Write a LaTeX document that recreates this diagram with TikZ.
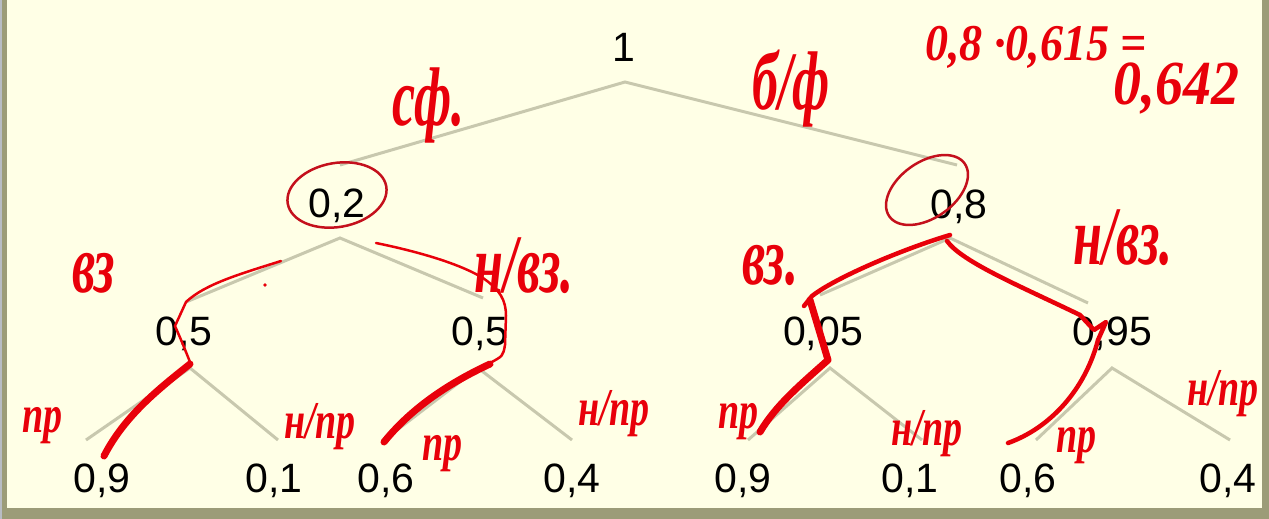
\documentclass[tikz,border=0pt]{standalone}
\usepackage{fontspec}
\usepackage{graphicx}
\setmainfont{Liberation Sans}
\newfontfamily\handfont{Liberation Serif}
\definecolor{bg}{HTML}{FFFFE6}
\definecolor{framec}{HTML}{9C9C78}
\definecolor{stripc}{HTML}{B8BCC4}
\definecolor{branch}{HTML}{C8C8AE}
\definecolor{ink}{HTML}{E8000A}
\definecolor{inkdark}{HTML}{C4101C}
\newcommand\hw[1]{\scalebox{1}[1.4]{#1}}
\newcommand\hwt[1]{\scalebox{1}[1.6]{#1}}
\newcommand\hwf[1]{\scalebox{1}[1.12]{#1}}
\begin{document}
\begin{tikzpicture}[x=1pt,y=-1pt,
  num/.style={font=\fontsize{41}{41}\selectfont, inner sep=0pt, anchor=base},
  edge/.style={draw=branch, line width=3pt},
  hand/.style={text=ink, inner sep=0pt, anchor=base west, font=\handfont\bfseries\itshape\fontsize{52}{52}\selectfont},
  handleaf/.style={hand, font=\handfont\bfseries\itshape\fontsize{38}{38}\selectfont},
  handnum/.style={hand, font=\handfont\bfseries\itshape\fontsize{46}{46}\selectfont},
  inkthin/.style={draw=ink, line width=2.5pt, line cap=round, line join=round},
  inkmid/.style={draw=ink, line width=4.5pt, line cap=round, line join=round},
  inkthick/.style={draw=ink, line width=7pt, line cap=round, line join=round},
  oval/.style={draw=inkdark, line width=2.5pt}]
\useasboundingbox (0,0) rectangle (1269,519);
% frame
\fill[framec] (0,0) rectangle (1269,519);
\fill[stripc] (0,0) rectangle (2,519);
\fill[bg] (7,0) rectangle (1262,508);

% numbers
\node[num] (r) at (624,62) {1};
\node[num] (a) at (337,217) {0,2};
\node[num] (b) at (959,218) {0,8};
\node[num] (a1) at (184,345) {0,5};
\node[num] (a2) at (480,345) {0,5};
\node[num] (b1) at (823,345) {0,05};
\node[num] (b2) at (1112,345) {0,95};
\node[num] (l1) at (102,492) {0,9};
\node[num] (l2) at (274,492) {0,1};
\node[num] (l3) at (386,492) {0,6};
\node[num] (l4) at (572,492) {0,4};
\node[num] (l5) at (743,492) {0,9};
\node[num] (l6) at (910,492) {0,1};
\node[num] (l7) at (1028,492) {0,6};
\node[num] (l8) at (1228,492) {0,4};

% branch points
\coordinate (rA) at (625,82);
\coordinate (rL) at (340,165);
\coordinate (rR) at (957,165);
\coordinate (aA) at (340,238);
\coordinate (aL) at (186,302);
\coordinate (aR) at (483,298);
\coordinate (bA) at (950,238);
\coordinate (bL) at (820,295);
\coordinate (bR) at (1088,303);
\coordinate (a1A) at (190,368);
\coordinate (a1L) at (86,440);
\coordinate (a1R) at (278,440);
\coordinate (a2A) at (478,368);
\coordinate (a2L) at (384,440);
\coordinate (a2R) at (572,440);
\coordinate (b1A) at (830,368);
\coordinate (b1L) at (748,440);
\coordinate (b1R) at (922,440);
\coordinate (b2A) at (1112,368);
\coordinate (b2L) at (1036,440);
\coordinate (b2R) at (1230,440);

\draw[edge] (rL) -- (rA) -- (rR);
\draw[edge] (aL) -- (aA) -- (aR);
\draw[edge] (bL) -- (bA) -- (bR);
\draw[edge] (a1L) -- (a1A) -- (a1R);
\draw[edge] (a2L) -- (a2A) -- (a2R);
\draw[edge] (b1L) -- (b1A) -- (b1R);
\draw[edge] (b2L) -- (b2A) -- (b2R);

% handwritten labels
\node[hand] (t1) at (392,125) {\hwt{сф.}};
\node[hand] (t2) at (752,110) {\hwt{б/ф}};
\node[hand] (t3) at (72,292) {\hwt{вз}};
\node[hand] (t4) at (474,292) {\hwt{н/вз.}};
\node[hand] (t5) at (742,284) {\hwt{вз.}};
\node[hand] (t6) at (1073,264) {\hwt{н/вз.}};
\node[handleaf] (p1) at (22,432) {\hw{пр}};
\node[handleaf] (p2) at (284,438) {\hw{н/пр}};
\node[handleaf] (p3) at (422,460) {\hw{пр}};
\node[handleaf] (p4) at (578,425) {\hw{н/пр}};
\node[handleaf] (p5) at (718,428) {\hw{пр}};
\node[handleaf] (p6) at (891,445) {\hw{н/пр}};
\node[handleaf] (p7) at (1056,452) {\hw{пр}};
\node[handleaf] (p8) at (1187,405) {\hw{н/пр}};
\node[handnum] (f1) at (925,60) {\hwf{0,8 ·0,615 =}};
\node[hand, font=\handfont\bfseries\itshape\fontsize{56}{56}\selectfont] (f2) at (1113,104) {\hwf{0,642}};

% ovals
\draw[oval, rotate around={10:(337,195)}] (337,195) ellipse [x radius=50, y radius=32];
\draw[oval, rotate around={35:(927,190)}] (927,190) ellipse [x radius=46, y radius=28];

% red paths, left subtree
\draw[inkthin] (281,261) .. controls (240,274) and (205,284) .. (186,302) -- (175,326) .. controls (182,342) .. (190,362);
\fill[ink] (265,285) circle (1.8);
\draw[inkthick] (190,364) .. controls (160,388) and (125,415) .. (104,456);
\draw[inkthin] (376,243) .. controls (420,252) and (460,264) .. (483,278) .. controls (500,290) and (506,300) .. (506,316) -- (505,345) .. controls (503,356) .. (490,363);
\draw[inkthick] (490,364) .. controls (445,385) and (410,410) .. (384,442);

% red paths, right subtree
\draw[inkmid] (950,235) .. controls (900,250) and (835,278) .. (812,296) -- (804,306);
\draw[inkthick] (810,300) -- (828,360) .. controls (800,385) and (776,405) .. (760,432);
\draw[inkmid] (947,241) .. controls (962,262) and (1020,286) .. (1080,315) -- (1094,330) -- (1106,322) -- (1098,340) .. controls (1085,390) and (1050,428) .. (1008,443);
\end{tikzpicture}
\end{document}
